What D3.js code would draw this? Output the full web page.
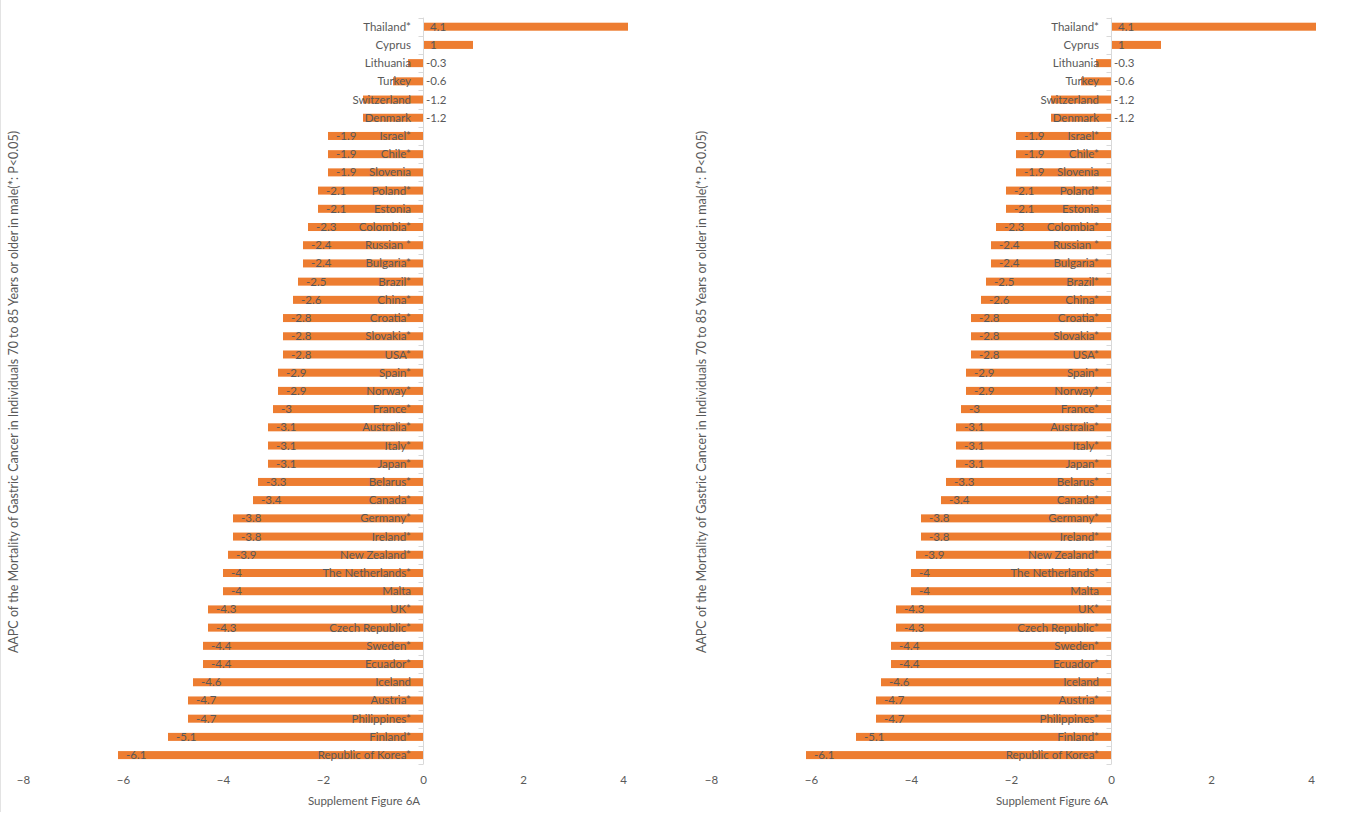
<!DOCTYPE html>
<html>
<head>
<meta charset="utf-8">
<script src="https://cdn.jsdelivr.net/npm/d3@7"></script>
<style>
  body { margin: 0; background: #fff; }
  text { font-family: Lato, "Open Sans", sans-serif; fill: #595959; }
</style>
</head>
<body>
<div id="chart"></div>
<script>
/* countries, top to bottom */
const countries = ['Thailand*', 'Cyprus', 'Lithuania', 'Turkey', 'Switzerland', 'Denmark',
  'Israel*', 'Chile*', 'Slovenia', 'Poland*', 'Estonia', 'Colombia*', 'Russian *', 'Bulgaria*',
  'Brazil*', 'China*', 'Croatia*', 'Slovakia*', 'USA*', 'Spain*', 'Norway*', 'France*',
  'Australia*', 'Italy*', 'Japan*', 'Belarus*', 'Canada*', 'Germany*', 'Ireland*',
  'New Zealand*', 'The Netherlands*', 'Malta', 'UK*', 'Czech Republic*', 'Sweden*',
  'Ecuador*', 'Iceland', 'Austria*', 'Philippines*', 'Finland*', 'Republic of Korea*'];

/* AAPC values */
const aapc = [4.1, 1, -0.3, -0.6, -1.2, -1.2, -1.9, -1.9, -1.9, -2.1, -2.1, -2.3, -2.4, -2.4,
  -2.5, -2.6, -2.8, -2.8, -2.8, -2.9, -2.9, -3, -3.1, -3.1, -3.1, -3.3, -3.4, -3.8, -3.8,
  -3.9, -4, -4, -4.3, -4.3, -4.4, -4.4, -4.6, -4.7, -4.7, -5.1, -6.1];

const xTicks = [-8, -6, -4, -2, 0, 2, 4];
const yTitle = 'AAPC of the Mortality of Gastric Cancer in Individuals 70 to 85 Years or older in male(*:  P<0.05)';
const xTitle = 'Supplement  Figure 6A';

const width = 1347;
const height = 824;
const barColor = '#ED7D31';
const axisColor = '#d9d9d9';

const data = countries.map((c, i) => ({ name: c, value: aapc[i] }));

const svg = d3.select('#chart')
  .append('svg')
  .attr('width', width)
  .attr('height', height);

// faint frame line at the left edge
svg.append('line')
  .attr('x1', 0.5).attr('x2', 0.5)
  .attr('y1', 0).attr('y2', 812)
  .attr('stroke', '#e3e3e3');

const y = d3.scaleBand()
  .domain(countries)
  .range([17.6, 764.2])
  .paddingInner(0.56)
  .paddingOuter(0.28);

function drawPanel(offset) {
  const g = svg.append('g').attr('transform', `translate(${offset}, 0)`);

  const x = d3.scaleLinear()
    .domain([-8, 4])
    .range([23, 623]);

  const zero = x(0);

  // bars
  g.append('g')
    .selectAll('rect')
    .data(data)
    .enter()
    .append('rect')
    .attr('x', d => Math.min(x(d.value), zero))
    .attr('y', d => y(d.name))
    .attr('width', d => Math.abs(x(d.value) - zero))
    .attr('height', y.bandwidth())
    .attr('fill', barColor);

  // zero axis with category ticks
  g.append('line')
    .attr('x1', zero + 0.5).attr('x2', zero + 0.5)
    .attr('y1', y.range()[0]).attr('y2', y.range()[1])
    .attr('stroke', axisColor);

  const bounds = countries.map(c => y(c) - (y.step() - y.bandwidth()) / 2).concat([y.range()[1]]);
  g.append('g')
    .selectAll('line')
    .data(bounds)
    .enter()
    .append('line')
    .attr('x1', zero - 4.5).attr('x2', zero + 0.5)
    .attr('y1', d => Math.round(d) + 0.5).attr('y2', d => Math.round(d) + 0.5)
    .attr('stroke', axisColor);

  // category labels
  g.append('g')
    .selectAll('text')
    .data(data)
    .enter()
    .append('text')
    .attr('x', zero - 12)
    .attr('y', d => y(d.name) + y.bandwidth() / 2)
    .attr('dy', '0.35em')
    .attr('text-anchor', 'end')
    .style('font-size', '11.5px')
    .text(d => d.name);

  // value labels
  g.append('g')
    .selectAll('text')
    .data(data)
    .enter()
    .append('text')
    .attr('x', d => {
      if (d.value > 0) return zero + 7;
      if (d.value > -1.5) return zero + 3;
      return x(d.value) + 8;
    })
    .attr('y', d => y(d.name) + y.bandwidth() / 2)
    .attr('dy', '0.35em')
    .attr('text-anchor', 'start')
    .style('font-size', '11.5px')
    .text(d => d.value);

  // x axis tick labels
  const axis = d3.axisBottom(x)
    .tickValues(xTicks)
    .tickSize(0)
    .tickFormat(d3.format('d'));
  const ax = g.append('g')
    .attr('transform', 'translate(0, 773)')
    .call(axis);
  ax.select('.domain').remove();
  ax.selectAll('text')
    .style('font-size', '11.5px')
    .style('font-family', 'Lato, "Open Sans", sans-serif')
    .attr('fill', '#595959');

  // axis titles
  g.append('text')
    .attr('x', 364)
    .attr('y', 805)
    .attr('text-anchor', 'middle')
    .style('font-size', '11.5px')
    .text(xTitle);

  g.append('text')
    .attr('transform', 'translate(18, 392) rotate(-90)')
    .attr('text-anchor', 'middle')
    .style('font-size', '12.5px')
    .text(yTitle);
}

drawPanel(0);
drawPanel(688);
</script>
</body>
</html>
